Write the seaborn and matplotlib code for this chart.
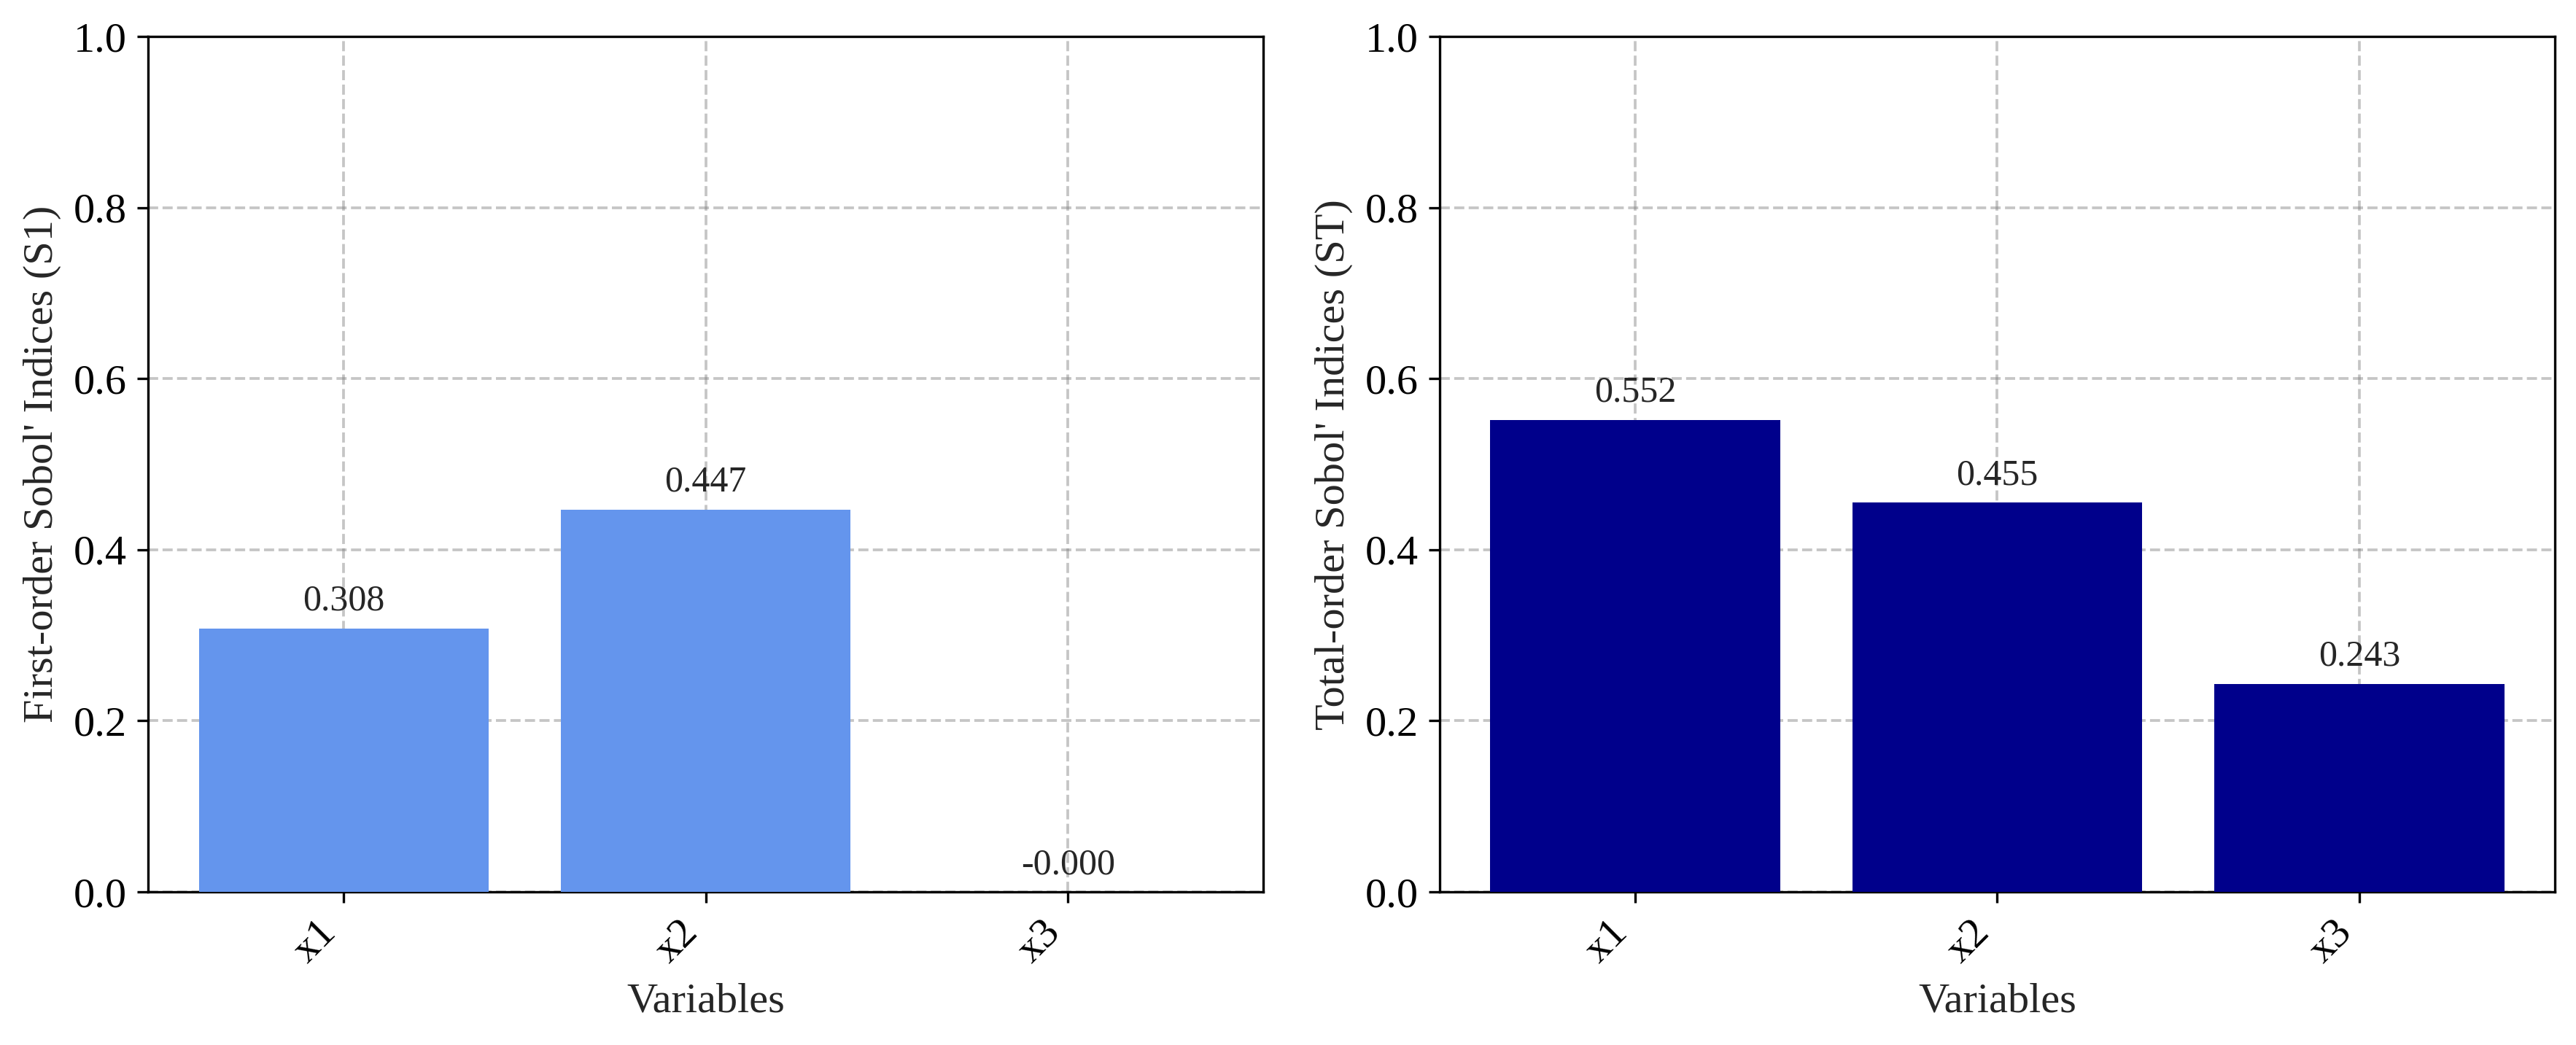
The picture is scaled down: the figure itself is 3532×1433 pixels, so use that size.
import matplotlib
matplotlib.use("Agg")
import matplotlib.pyplot as plt
import seaborn as sns
import pandas as pd

variables = ["x1", "x2", "x3"]
first_order = [0.308, 0.447, -0.0001]
total_order = [0.552, 0.455, 0.243]

sns.set_theme(style="ticks")
plt.rcParams.update({
    'font.family': ['Liberation Serif', 'DejaVu Serif'],
    'font.size': 14,
    'axes.labelsize': 14,
    'xtick.labelsize': 14,
    'ytick.labelsize': 14,
    'axes.edgecolor': 'black',
    'axes.linewidth': 0.8,
    'xtick.color': 'black',
    'ytick.color': 'black',
    'xtick.major.size': 3.5,
    'ytick.major.size': 3.5,
    'xtick.major.width': 0.8,
    'ytick.major.width': 0.8,
})


def sobol_bar(ax, values, color, ylabel):
    df = pd.DataFrame({"Variables": variables, "value": values})
    sns.barplot(data=df, x="Variables", y="value", color=color, width=0.8,
                saturation=1, edgecolor="none", linewidth=0, ax=ax, zorder=3)
    ax.set_xlim(-0.54, 2.54)
    ax.set_ylim(0, 1.0)
    ax.set_xlabel("Variables")
    ax.set_ylabel(ylabel)
    ax.grid(True, linestyle="--", color="gray", alpha=0.45, linewidth=0.9, zorder=0)
    ax.set_axisbelow(True)
    plt.setp(ax.get_xticklabels(), rotation=45, ha="right")
    for i, v in enumerate(values):
        ax.text(i, v + 0.012, f"{v:.3f}", ha="center", va="bottom", fontsize=12)
    for s in ax.spines.values():
        s.set_visible(True)
        s.set_color("black")


fig, axes = plt.subplots(1, 2, figsize=(3532 / 300, 1433 / 300), dpi=300)
sobol_bar(axes[0], first_order, "cornflowerblue", "First-order Sobol' Indices (S1)")
sobol_bar(axes[1], total_order, "darkblue", "Total-order Sobol' Indices (ST)")

plt.subplots_adjust(left=0.0575, right=0.9918, top=0.965, bottom=0.1465, wspace=0.158)
fig.savefig("out.png", dpi=300)
plt.close()
